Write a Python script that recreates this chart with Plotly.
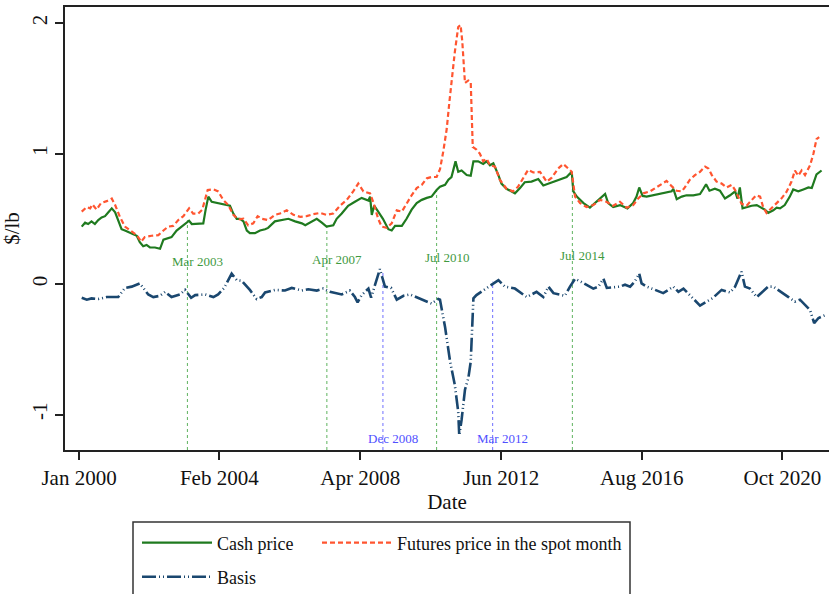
import plotly.graph_objects as go

# ---------------- data (time in decimal years) ----------------
cash_t = [2000.08, 2000.18, 2000.27, 2000.37, 2000.47, 2000.57, 2000.67, 2000.77, 2000.87, 2000.97,
          2001.07, 2001.16, 2001.26, 2001.36, 2001.46, 2001.56, 2001.71, 2001.80, 2001.90, 2002.00,
          2002.10, 2002.25, 2002.40, 2002.50, 2002.60, 2002.74, 2002.89, 2003.04, 2003.19, 2003.26,
          2003.34, 2003.53, 2003.68, 2003.75, 2003.83, 2003.93, 2004.12, 2004.32, 2004.47, 2004.57,
          2004.67, 2004.77, 2004.87, 2004.97, 2005.06, 2005.21, 2005.36, 2005.51, 2005.60, 2005.80,
          2006.00, 2006.20, 2006.40, 2006.60, 2006.70, 2006.84, 2007.04, 2007.19, 2007.33, 2007.53,
          2007.63, 2007.78, 2007.97, 2008.17, 2008.37, 2008.57, 2008.62, 2008.67, 2008.74, 2008.86,
          2009.00, 2009.16, 2009.26, 2009.36, 2009.56, 2009.70, 2009.85, 2010.00, 2010.15, 2010.30,
          2010.44, 2010.59, 2010.69, 2010.84, 2010.94, 2011.03, 2011.15, 2011.23, 2011.33, 2011.48,
          2011.60, 2011.68, 2011.82, 2011.97, 2012.07, 2012.17, 2012.27, 2012.42, 2012.51, 2012.66,
          2012.91, 2013.06, 2013.20, 2013.40, 2013.60, 2013.75, 2013.90, 2014.10, 2014.30, 2014.44,
          2014.59, 2014.64, 2014.74, 2014.94, 2015.13, 2015.28, 2015.43, 2015.58, 2015.67, 2015.82,
          2016.02, 2016.24, 2016.41, 2016.51, 2016.59, 2016.69, 2016.81, 2017.00, 2017.15, 2017.35,
          2017.55, 2017.60, 2017.70, 2017.85, 2017.99, 2018.19, 2018.39, 2018.49, 2018.57, 2018.67,
          2018.83, 2018.98, 2019.13, 2019.28, 2019.43, 2019.50, 2019.57, 2019.65, 2019.77, 2019.92,
          2020.07, 2020.17, 2020.31, 2020.41, 2020.56, 2020.66, 2020.76, 2020.90, 2021.05, 2021.15,
          2021.30, 2021.45, 2021.60, 2021.70, 2021.84, 2021.99]
cash_v = [0.44, 0.47, 0.46, 0.48, 0.46, 0.49, 0.51, 0.52, 0.55, 0.58,
          0.55, 0.48, 0.42, 0.41, 0.40, 0.39, 0.37, 0.32, 0.29, 0.30,
          0.28, 0.28, 0.27, 0.34, 0.35, 0.36, 0.41, 0.44, 0.47, 0.485,
          0.46, 0.46, 0.465, 0.57, 0.67, 0.63, 0.62, 0.605, 0.60, 0.54,
          0.50, 0.50, 0.48, 0.41, 0.39, 0.39, 0.41, 0.42, 0.43, 0.48,
          0.49, 0.50, 0.48, 0.465, 0.45, 0.47, 0.50, 0.47, 0.44, 0.45,
          0.50, 0.54, 0.60, 0.63, 0.66, 0.64, 0.67, 0.53, 0.60, 0.555,
          0.50, 0.42, 0.41, 0.445, 0.445, 0.50, 0.57, 0.62, 0.645, 0.66,
          0.67, 0.72, 0.745, 0.76, 0.80, 0.82, 0.94, 0.86, 0.87, 0.835,
          0.83, 0.94, 0.94, 0.92, 0.94, 0.91, 0.925, 0.835, 0.77, 0.73,
          0.695, 0.735, 0.78, 0.785, 0.805, 0.755, 0.77, 0.785, 0.81, 0.82,
          0.86, 0.71, 0.67, 0.62, 0.585, 0.62, 0.655, 0.69, 0.62, 0.59,
          0.605, 0.58, 0.62, 0.67, 0.74, 0.675, 0.67, 0.68, 0.69, 0.70,
          0.71, 0.73, 0.65, 0.67, 0.68, 0.68, 0.69, 0.73, 0.765, 0.715,
          0.73, 0.715, 0.655, 0.68, 0.71, 0.655, 0.74, 0.58, 0.59, 0.60,
          0.605, 0.59, 0.57, 0.545, 0.565, 0.585, 0.58, 0.605, 0.67, 0.725,
          0.71, 0.725, 0.74, 0.735, 0.84, 0.87]

fut_t = [2000.08, 2000.23, 2000.33, 2000.40, 2000.52, 2000.65, 2000.82, 2000.97, 2001.07, 2001.21,
         2001.36, 2001.56, 2001.71, 2001.84, 2001.95, 2002.15, 2002.35, 2002.50, 2002.64, 2002.79,
         2002.94, 2003.09, 2003.26, 2003.38, 2003.53, 2003.65, 2003.81, 2003.98, 2004.12, 2004.27,
         2004.42, 2004.57, 2004.72, 2004.87, 2005.01, 2005.16, 2005.29, 2005.41, 2005.60, 2005.80,
         2005.95, 2006.15, 2006.35, 2006.55, 2006.74, 2006.94, 2007.14, 2007.33, 2007.53, 2007.73,
         2007.93, 2008.12, 2008.27, 2008.42, 2008.62, 2008.71, 2008.86, 2008.96, 2009.11, 2009.26,
         2009.41, 2009.56, 2009.70, 2009.85, 2010.00, 2010.15, 2010.30, 2010.44, 2010.59, 2010.69,
         2010.79, 2010.89, 2010.97, 2011.04, 2011.13, 2011.23, 2011.30, 2011.35, 2011.43, 2011.53,
         2011.60, 2011.66, 2011.77, 2011.87, 2011.97, 2012.07, 2012.17, 2012.32, 2012.46, 2012.66,
         2012.85, 2013.00, 2013.15, 2013.30, 2013.45, 2013.65, 2013.85, 2014.00, 2014.19, 2014.34,
         2014.49, 2014.59, 2014.69, 2014.84, 2015.03, 2015.23, 2015.43, 2015.62, 2015.82, 2016.02,
         2016.22, 2016.41, 2016.56, 2016.71, 2016.91, 2017.10, 2017.25, 2017.40, 2017.55, 2017.70,
         2017.85, 2017.94, 2018.09, 2018.24, 2018.39, 2018.54, 2018.64, 2018.74, 2018.88, 2019.03,
         2019.18, 2019.33, 2019.43, 2019.53, 2019.62, 2019.77, 2019.92, 2020.05, 2020.17, 2020.26,
         2020.36, 2020.51, 2020.66, 2020.80, 2020.95, 2021.10, 2021.20, 2021.30, 2021.40, 2021.50,
         2021.65, 2021.75, 2021.84, 2021.92]
fut_v = [0.555, 0.59, 0.58, 0.61, 0.57, 0.62, 0.635, 0.655, 0.605, 0.515,
         0.44, 0.40, 0.375, 0.325, 0.36, 0.37, 0.375, 0.41, 0.44, 0.445,
         0.49, 0.52, 0.58, 0.54, 0.54, 0.57, 0.72, 0.725, 0.71, 0.645,
         0.605, 0.53, 0.495, 0.50, 0.45, 0.465, 0.52, 0.50, 0.49, 0.53,
         0.54, 0.565, 0.53, 0.515, 0.52, 0.535, 0.545, 0.53, 0.54, 0.60,
         0.645, 0.71, 0.77, 0.71, 0.695, 0.63, 0.50, 0.44, 0.43, 0.465,
         0.565, 0.555, 0.62, 0.68, 0.735, 0.76, 0.81, 0.82, 0.82, 0.88,
         1.02, 1.19, 1.40, 1.58, 1.78, 1.97, 1.985, 1.86, 1.54, 1.56,
         1.55, 1.05, 1.03, 1.00, 0.94, 0.96, 0.91, 0.90, 0.80, 0.73,
         0.71, 0.745, 0.81, 0.875, 0.855, 0.86, 0.785, 0.815, 0.885, 0.92,
         0.885, 0.86, 0.67, 0.62, 0.59, 0.605, 0.645, 0.63, 0.60, 0.63,
         0.585, 0.605, 0.655, 0.695, 0.71, 0.74, 0.77, 0.79, 0.75, 0.715,
         0.71, 0.74, 0.80, 0.835, 0.86, 0.90, 0.885, 0.835, 0.785, 0.77,
         0.74, 0.76, 0.72, 0.67, 0.615, 0.60, 0.645, 0.68, 0.67, 0.59,
         0.545, 0.58, 0.62, 0.655, 0.705, 0.785, 0.87, 0.83, 0.87, 0.835,
         0.91, 1.00, 1.11, 1.125]

basis_t = [2000.08, 2000.23, 2000.37, 2000.57, 2000.82, 2001.16, 2001.26, 2001.36, 2001.56, 2001.80,
           2002.05, 2002.20, 2002.40, 2002.55, 2002.74, 2002.99, 2003.14, 2003.32, 2003.44, 2003.73,
           2003.98, 2004.12, 2004.30, 2004.52, 2004.67, 2004.82, 2005.06, 2005.26, 2005.41, 2005.51,
           2005.80, 2006.10, 2006.30, 2006.60, 2006.79, 2007.04, 2007.23, 2007.43, 2007.78, 2008.02,
           2008.17, 2008.25, 2008.37, 2008.57, 2008.65, 2008.77, 2008.91, 2009.06, 2009.24, 2009.41,
           2009.61, 2009.80, 2010.10, 2010.44, 2010.64, 2010.69, 2010.84, 2010.99, 2011.13, 2011.23,
           2011.26, 2011.33, 2011.43, 2011.53, 2011.60, 2011.68, 2011.77, 2012.07, 2012.22, 2012.42,
           2012.61, 2012.91, 2013.26, 2013.55, 2013.75, 2013.90, 2014.05, 2014.39, 2014.54, 2014.69,
           2014.88, 2015.23, 2015.38, 2015.53, 2015.63, 2016.02, 2016.17, 2016.32, 2016.46, 2016.59,
           2016.66, 2016.81, 2017.06, 2017.30, 2017.60, 2017.75, 2017.90, 2018.19, 2018.39, 2018.58,
           2018.78, 2019.03, 2019.28, 2019.43, 2019.53, 2019.62, 2019.72, 2019.87, 2020.07, 2020.41,
           2020.56, 2020.71, 2021.01, 2021.20, 2021.35, 2021.65, 2021.77, 2021.90, 2022.08]
basis_v = [-0.105, -0.12, -0.11, -0.115, -0.10, -0.10, -0.065, -0.03, -0.02, 0.005,
           -0.08, -0.10, -0.09, -0.06, -0.10, -0.08, -0.045, -0.105, -0.085, -0.08,
           -0.10, -0.08, -0.03, 0.08, 0.03, 0.025, -0.045, -0.115, -0.10, -0.065,
           -0.045, -0.05, -0.03, -0.05, -0.04, -0.05, -0.035, -0.06, -0.08, -0.05,
           -0.10, -0.14, -0.085, -0.035, -0.105, 0.005, 0.115, -0.02, -0.03, -0.12,
           -0.09, -0.08, -0.11, -0.15, -0.115, -0.12, -0.33, -0.595, -0.775, -0.98,
           -1.16, -1.04, -0.81, -0.72, -0.595, -0.11, -0.085, -0.035, -0.01, 0.03,
           -0.02, -0.035, -0.10, -0.06, -0.10, -0.02, -0.07, -0.09, -0.02, 0.04,
           0.015, -0.035, -0.02, 0.04, -0.03, -0.02, -0.005, -0.02, 0.02, 0.08,
           0.005, -0.02, -0.045, -0.07, -0.02, -0.06, -0.035, -0.11, -0.165, -0.135,
           -0.105, -0.045, -0.065, -0.02, 0.04, 0.095, -0.02, -0.035, -0.10, -0.02,
           -0.02, -0.045, -0.10, -0.135, -0.12, -0.20, -0.30, -0.26, -0.24]

# event markers
green_evt_t = [2003.21, 2007.34, 2010.59, 2014.61]
green_evt_top = [0.49, 0.45, 0.745, 0.85]
green_evt_lbl = ["Mar 2003", "Apr 2007", "Jul 2010", "Jul 2014"]
green_lbl_y = [0.17, 0.185, 0.20, 0.22]

blue_evt_t = [2009.00, 2012.25]
blue_evt_top = [0.094, 0.018]
blue_evt_lbl = ["Dec 2008", "Mar 2012"]
blue_lbl_y = [-1.18, -1.18]

tick_vals = [2000.0, 2004.155, 2008.33, 2012.5, 2016.665, 2020.83]
tick_text = ["Jan 2000", "Feb 2004", "Apr 2008", "Jun 2012", "Aug 2016", "Oct 2020"]

Y_MIN, Y_MAX = -1.272, 2.123
X_MIN, X_MAX = 1999.585, 2022.21

FONT = "Liberation Serif"
GREEN = "#1f7a1f"
ORANGE = "#ff5530"
NAVY = "#1a476f"
EVT_GREEN = "#5fb35f"
EVT_BLUE = "#6f6fff"


def vlines(ts, tops):
    xs, ys = [], []
    for t, top in zip(ts, tops):
        xs += [t, t, None]
        ys += [Y_MIN, top, None]
    return xs, ys


fig = go.Figure()

gx, gy = vlines(green_evt_t, green_evt_top)
fig.add_trace(go.Scatter(x=gx, y=gy, mode="lines", showlegend=False, hoverinfo="skip",
                         line=dict(color=EVT_GREEN, width=1, dash="dot")))
bx, by = vlines(blue_evt_t, blue_evt_top)
fig.add_trace(go.Scatter(x=bx, y=by, mode="lines", showlegend=False, hoverinfo="skip",
                         line=dict(color=EVT_BLUE, width=1, dash="dot")))

fig.add_trace(go.Scatter(x=cash_t, y=cash_v, mode="lines", name="Cash price",
                         line=dict(color=GREEN, width=2.2), legend="legend"))
fig.add_trace(go.Scatter(x=fut_t, y=fut_v, mode="lines", name="Futures price in the spot month",
                         line=dict(color=ORANGE, width=2.2, dash="5px,3px"), legend="legend2"))
fig.add_trace(go.Scatter(x=basis_t, y=basis_v, mode="lines", name="Basis",
                         line=dict(color=NAVY, width=2.6, dash="14px,3px,1px,3px,1px,3px"),
                         legend="legend3"))

for t, lbl, ly in zip(green_evt_t, green_evt_lbl, green_lbl_y):
    fig.add_annotation(x=t, y=ly, text=lbl, showarrow=False, xshift=10,
                       font=dict(family=FONT, size=13, color="#3f9a3f"))
for t, lbl, ly in zip(blue_evt_t, blue_evt_lbl, blue_lbl_y):
    fig.add_annotation(x=t, y=ly, text=lbl, showarrow=False, xshift=10,
                       font=dict(family=FONT, size=13, color="#5050ff"))

W, H = 829, 594
ML, MR, MT, MB = 65, 0, 7, 144
pw, ph = W - ML - MR, H - MT - MB


def px_x(p):
    return (p - ML) / pw


def px_y(p):
    return (H - MB - p) / ph


legend_common = dict(orientation="h", bgcolor="rgba(0,0,0,0)", borderwidth=0,
                     font=dict(family=FONT, size=18, color="#111"),
                     xanchor="left", yanchor="middle", itemwidth=70)

fig.update_layout(
    width=W, height=H,
    margin=dict(l=ML, r=MR, t=MT, b=MB, autoexpand=False),
    paper_bgcolor="white", plot_bgcolor="white",
    font=dict(family=FONT, color="#111"),
    showlegend=True,
    legend=dict(**legend_common, x=px_x(137), y=px_y(543)),
    legend2=dict(**legend_common, x=px_x(317), y=px_y(543)),
    legend3=dict(**legend_common, x=px_x(137), y=px_y(577)),
    xaxis=dict(range=[X_MIN, X_MAX], tickmode="array", tickvals=tick_vals, ticktext=tick_text,
               showgrid=False, zeroline=False, showline=True, linecolor="#222", linewidth=2,
               mirror=True, ticks="outside", ticklen=8, tickwidth=1.5, tickcolor="#222",
               tickfont=dict(family=FONT, size=21, color="#111"),
               title=dict(text="Date", font=dict(family=FONT, size=21, color="#111"), standoff=0)),
    yaxis=dict(range=[Y_MIN, Y_MAX], tickmode="array", tickvals=[-1, 0, 1, 2],
               ticktext=["-1", "0", "1", "2"], tickangle=-90,
               showgrid=False, zeroline=False, showline=True, linecolor="#222", linewidth=2,
               ticks="outside", ticklen=8, tickwidth=1.5, tickcolor="#222",
               tickfont=dict(family=FONT, size=21, color="#111"),
               title=dict(text="$/lb", font=dict(family=FONT, size=21, color="#111"), standoff=4)),
)

fig.add_shape(type="rect", xref="paper", yref="paper",
              x0=px_x(133), x1=px_x(630), y0=px_y(522), y1=px_y(600),
              line=dict(color="#333", width=1.5), fillcolor="rgba(0,0,0,0)")

fig.write_html("out.html", config={"displayModeBar": False},
               post_script="document.body.style.margin='0';")
